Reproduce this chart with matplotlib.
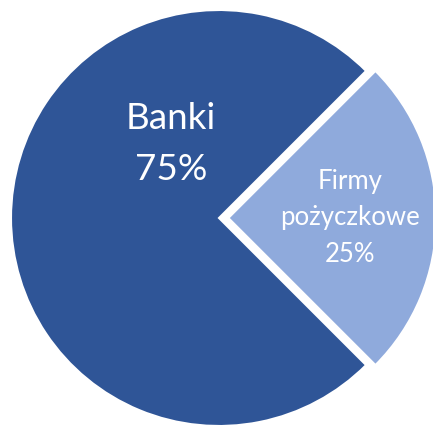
import matplotlib.pyplot as plt

# udzial w rynku
labels = ['Banki', 'Firmy\npożyczkowe']
shares = [75, 25]
colors = ['#2F5597', '#8FAADC']
explode = [0, 0.045]

fig = plt.figure(figsize=(4.33, 4.25), dpi=100)
ax = fig.add_axes([0, 0, 1, 1])

wedges, _ = ax.pie(shares, colors=colors, explode=explode, startangle=45,
                   radius=1.0, wedgeprops=dict(edgecolor='white', linewidth=1.5))

# pie scaled to 208 px per unit, centre at (219, 218) px from top-left
ax.set_xlim(-219 / 208, (433 - 219) / 208)
ax.set_ylim(-(425 - 218) / 208, 218 / 208)
ax.set_aspect('auto')
ax.axis('off')

ax.text(-0.23, 0.355, '%s\n%d%%' % (labels[0], shares[0]), color='white',
        fontsize=26.5, family='Lato', ha='center', va='center', linespacing=1.68)
ax.text(0.63, 0.0, '%s\n%d%%' % (labels[1], shares[1]), color='white',
        fontsize=18.5, family='Lato', ha='center', va='center', linespacing=1.6)

fig.savefig('out.png', dpi=100)
